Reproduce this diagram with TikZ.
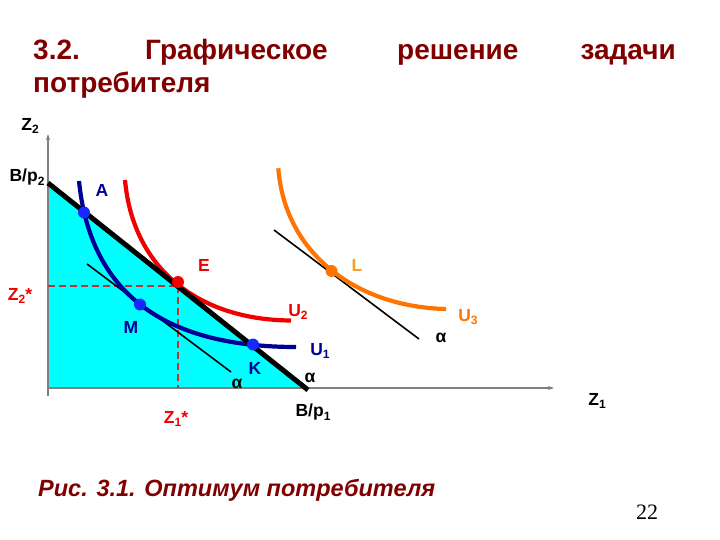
\documentclass[tikz,border=0pt]{standalone}
\usepackage{fontspec}
\setmainfont{Liberation Sans}
\newfontfamily\pagefont{Liberation Serif}
\usetikzlibrary{arrows.meta}
\newcommand{\lsub}[1]{\raisebox{-0.4ex}{\fontsize{12}{12}\selectfont #1}}

\begin{document}
\begin{tikzpicture}[x=1pt, y=-1pt,
	lbl/.style={font=\fontsize{17.5}{20}\selectfont\bfseries, inner sep=0pt},
	titleword/.style={font=\fontsize{28}{31}\selectfont\bfseries, text=titlered, inner sep=0pt, anchor=base west},
	ptdot/.style={circle, inner sep=0pt, minimum size=12pt},
	ucurve/.style={line width=4.2pt, line cap=butt},
	tangentline/.style={black, line width=1.6pt}]
	% Define custom colors
	\definecolor{titlered}{RGB}{128, 0, 0}
	\definecolor{budgetfill}{RGB}{0, 255, 255}
	\definecolor{uone}{RGB}{0, 0, 150}
	\definecolor{bluedot}{RGB}{20, 40, 255}
	\definecolor{utwo}{RGB}{240, 0, 0}
	\definecolor{optdash}{RGB}{190, 50, 50}
	\definecolor{uthree}{RGB}{255, 115, 0}
	\definecolor{lgold}{RGB}{245, 160, 30}
	\definecolor{axisgray}{RGB}{128, 128, 128}
	\useasboundingbox (0,0) rectangle (720,540);
	% title
	\node[titleword] (t1) at (33, 60) {3.2.};
	\node[titleword] (t2) at (145, 60) {Графическое};
	\node[titleword] (t3) at (397, 60) {решение};
	\node[titleword, anchor=base east] (t4) at (676, 60) {задачи};
	\node[titleword] (t5) at (33, 93) {потребителя};
	% axes
	\coordinate (O) at (48, 388);
	\coordinate (ytop) at (48, 134);
	\coordinate (xend) at (554, 388);
	\coordinate (B2) at (48, 183);
	\coordinate (B1) at (308, 390);
	\fill[budgetfill] (B2) -- (O) -- (308, 388) -- cycle;
	\draw[axisgray, line width=1.2pt, -{Stealth[length=6pt, width=4pt]}] (48, 396) -- (ytop);
	\draw[axisgray, line width=1.2pt, -{Stealth[length=6pt, width=4pt]}] (O) -- (xend);
	% optimum guides
	\coordinate (E) at (178, 282);
	\coordinate (Eg) at (178, 286);
	\draw[optdash, line width=1.5pt, dash pattern=on 7pt off 4pt] (O |- Eg) -- (Eg);
	\draw[optdash, line width=1.5pt, dash pattern=on 7pt off 4pt] (Eg) -- (Eg |- O);
	% tangent lines
	\coordinate (m1) at (87, 264);
	\coordinate (m2) at (231, 372);
	\coordinate (l1) at (274, 230);
	\coordinate (l2) at (419, 339);
	\draw[tangentline] (m1) -- (m2);
	\draw[tangentline] (l1) -- (l2);
	% indifference curves
	\draw[ucurve, uone] (79, 181) .. controls (90, 290) and (160, 347) .. (296, 347);
	\draw[ucurve, utwo] (125, 180) .. controls (133, 270) and (200, 320) .. (291, 320.5);
	\draw[ucurve, uthree] (278.3, 168.3) .. controls (285, 255) and (358, 307) .. (446, 309);
	% budget line
	\draw[black, line width=5pt] (B2) -- (B1);
	% points
	\node[ptdot, fill=bluedot] (A) at (84, 212.5) {};
	\node[ptdot, fill=bluedot] (M) at (140, 304.5) {};
	\node[ptdot, fill=bluedot] (K) at (253, 344.5) {};
	\node[ptdot, fill=utwo] (Edot) at (E) {};
	\node[ptdot, fill=uthree] (L) at (331.5, 271) {};
	% labels
	\node[lbl] (z2) at (30, 126) {Z\lsub{2}};
	\node[lbl] (z1) at (597, 401) {Z\lsub{1}};
	\node[lbl] (bp2) at (27, 177) {B/p\lsub{2}};
	\node[lbl] (bp1) at (313, 412) {B/p\lsub{1}};
	\node[lbl, text=uone] (Alab) at (102, 190) {A};
	\node[lbl, text=utwo] (Elab) at (204, 265) {E};
	\node[lbl, text=lgold] (Llab) at (357, 265) {L};
	\node[lbl, text=uone] (Mlab) at (131, 327) {M};
	\node[lbl, text=uone] (Klab) at (255, 368) {K};
	\node[lbl, text=utwo] (z2s) at (20, 296) {Z\lsub{2}*};
	\node[lbl, text=utwo] (z1s) at (176, 419) {Z\lsub{1}*};
	\node[lbl, text=utwo] (u2) at (298, 312) {U\lsub{2}};
	\node[lbl, text=uone] (u1) at (320, 351) {U\lsub{1}};
	\node[lbl, text=uthree] (u3) at (468, 317) {U\lsub{3}};
	\node[lbl] (a1) at (237, 384) {α};
	\node[lbl] (a2) at (310, 378) {α};
	\node[lbl] (a3) at (441, 338) {α};
	% caption and page number
	\node[font=\fontsize{23.5}{27}\selectfont\bfseries\itshape, text=titlered, inner sep=0pt, anchor=base west] (cap) at (38, 496) {Рис. 3.1. Оптимум потребителя};
	\node[font=\pagefont\fontsize{22}{26}\selectfont, inner sep=0pt] (pg) at (647, 512) {22};
\end{tikzpicture}
\end{document}
